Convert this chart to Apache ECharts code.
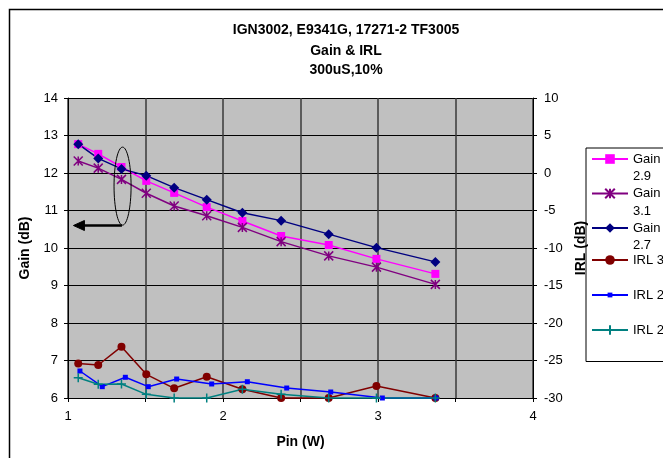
<!DOCTYPE html>
<html>
<head>
<meta charset="utf-8">
<script src="https://cdn.jsdelivr.net/npm/echarts@6/dist/echarts.min.js"></script>
<style>
html,body{margin:0;padding:0;background:#fff;}
#c{width:663px;height:458px;}
</style>
</head>
<body>
<div id="c"></div>
<script>
// ---- data ----
const titleLines = ['IGN3002, E9341G, 17271-2 TF3005', 'Gain & IRL', '300uS,10%'];
const pin   = [1.066, 1.195, 1.345, 1.505, 1.685, 1.895, 2.125, 2.375, 2.682, 2.99, 3.37];
const pinB  = [1.077, 1.221, 1.37, 1.518, 1.701, 1.927, 2.157, 2.411, 2.695, 3.028, 3.374];
const gain29 = [12.77, 12.51, 12.16, 11.79, 11.47, 11.09, 10.72, 10.32, 10.08, 9.71, 9.31];
const gain31 = [12.32, 12.13, 11.83, 11.46, 11.12, 10.86, 10.55, 10.17, 9.79, 9.49, 9.03];
const gain27 = [12.77, 12.39, 12.11, 11.93, 11.61, 11.29, 10.94, 10.73, 10.37, 10.01, 9.63];
const irl3   = [-25.4, -25.6, -23.16, -26.84, -28.71, -27.16, -28.84, -30, -30, -28.4, -30];
const irl2a  = [-26.4, -28.49, -27.24, -28.49, -27.47, -28.13, -27.83, -28.67, -29.2, -30, -30];
const irl2b  = [-27.29, -28.17, -28.13, -29.51, -30, -30, -28.84, -29.51, -30, -30, -30];
const seriesNames = ['Gain 2.9', 'Gain 3.1', 'Gain 2.7', 'IRL 3', 'IRL 2', 'IRL 2 '];
// annotation (ellipse around gain points + arrow to left axis), in data units
const ellipseAt = {x: 1.352, y: 11.65, halfW: 0.055, halfH: 1.04};
const arrowFrom = [1.348, 10.6], arrowTo = [1.035, 10.6];

const FONT = '"Liberation Sans", Arial, sans-serif';
const zip = (xs, ys) => xs.map((x, i) => [x, ys[i]]);

const asterisk = 'path://M0,0L10,10M10,0L0,10M5,0L5,10';
const plus = 'path://M5,0L5,10M0,5L10,5';

const defs = [
  {name: seriesNames[0], data: zip(pin, gain29), y: 0, color: '#FF00FF', symbol: 'rect', size: 8, legendH: 12},
  {name: seriesNames[1], data: zip(pin, gain31), y: 0, color: '#800080', symbol: asterisk, size: 9, stroke: true, legendH: 12},
  {name: seriesNames[2], data: zip(pin, gain27), y: 0, color: '#000080', symbol: 'diamond', size: 10, legendH: 12},
  {name: seriesNames[3], data: zip(pin, irl3), y: 1, color: '#800000', symbol: 'circle', size: 8, legendH: 12},
  {name: seriesNames[4], data: zip(pinB, irl2a), y: 1, color: '#0000FF', symbol: 'rect', size: 5, legendH: 6},
  {name: seriesNames[5], data: zip(pin, irl2b), y: 1, color: '#008080', symbol: plus, size: 9, stroke: true, legendH: 12}
];

const series = defs.map(d => ({
  type: 'line',
  name: d.name,
  yAxisIndex: d.y,
  data: d.data,
  symbol: d.symbol,
  symbolSize: d.size,
  clip: false,
  animation: false,
  lineStyle: {color: d.color, width: 1.5},
  itemStyle: d.stroke
    ? {color: d.color, borderColor: d.color, borderWidth: 1.5}
    : {color: d.color, borderWidth: 0}
}));

// legend: one component per entry so each can sit exactly where Excel put it
const LH = 17.5;
const legendCenters = [159, 193.5, 228, 260, 295, 330];
const legends = seriesNames.map((n, i) => {
  const twoLine = n.startsWith('Gain');
  return {
    data: [n],
    left: 591,
    top: legendCenters[i] - (twoLine ? 1.5 * LH : 0.5 * LH),
    orient: 'vertical',
    padding: 0,
    itemWidth: 36,
    itemHeight: defs[i].legendH,
    selectedMode: false,
    // blank first line keeps the marker level with the first text line, as in Excel
    formatter: nm => twoLine ? ' \n' + nm.replace(' ', '\n') : nm.trim(),
    textStyle: {fontFamily: FONT, fontSize: 13, color: '#000', lineHeight: LH}
  };
});

const chart = echarts.init(document.getElementById('c'), null, {renderer: 'canvas'});

const axisName = {fontFamily: FONT, fontSize: 14, fontWeight: 'bold', color: '#000'};
const tickLabel = {fontFamily: FONT, fontSize: 13, color: '#000'};

chart.setOption({
  animation: false,
  backgroundColor: '#fff',
  grid: {left: 68, top: 98, right: 130, bottom: 60, show: true, backgroundColor: '#C0C0C0', borderWidth: 0},
  legend: legends,
  xAxis: {
    type: 'value', min: 1, max: 4, interval: 0.5,
    name: 'Pin (W)', nameLocation: 'middle', nameGap: 37, nameTextStyle: axisName,
    axisLine: {show: true, onZero: false, lineStyle: {color: '#000', width: 1}},
    axisTick: {show: true, length: 4, lineStyle: {color: '#000'}},
    axisLabel: Object.assign({margin: 12, formatter: v => (Math.abs(v - Math.round(v)) < 1e-9 ? String(Math.round(v)) : '')}, tickLabel),
    splitLine: {show: true, lineStyle: {color: '#3a3a3a', width: 1.5}}
  },
  yAxis: [
    {
      type: 'value', min: 6, max: 14, interval: 1, position: 'left',
      name: 'Gain (dB)', nameLocation: 'middle', nameGap: 34, nameTextStyle: axisName,
      axisLine: {show: true, lineStyle: {color: '#000', width: 1}},
      axisTick: {show: true, length: 4, lineStyle: {color: '#000'}},
      axisLabel: Object.assign({margin: 10}, tickLabel),
      splitLine: {show: true, lineStyle: {color: '#000', width: 1}}
    },
    {
      type: 'value', min: -30, max: 10, interval: 5, position: 'right',
      name: 'IRL (dB)', nameLocation: 'middle', nameGap: 40, nameRotate: 90, nameTextStyle: axisName,
      axisLine: {show: true, lineStyle: {color: '#000', width: 1}},
      axisTick: {show: true, length: 4, lineStyle: {color: '#000'}},
      axisLabel: Object.assign({margin: 11}, tickLabel),
      splitLine: {show: false}
    }
  ],
  series: series
});

// annotations and title, placed through the chart's own scales
const P = (x, y) => chart.convertToPixel({xAxisIndex: 0, yAxisIndex: 0}, [x, y]);
const c = P(ellipseAt.x, ellipseAt.y);
const e1 = P(ellipseAt.x + ellipseAt.halfW, ellipseAt.y + ellipseAt.halfH);
const a0 = P(arrowFrom[0], arrowFrom[1]);
const a1 = P(arrowTo[0], arrowTo[1]);

const graphics = [
  {type: 'rect', z: 0, silent: true, shape: {x: 9.5, y: 9.5, width: 720, height: 520},
   style: {fill: null, stroke: '#000', lineWidth: 1.5}},
  {type: 'rect', z: 1, silent: true, shape: {x: 586, y: 148, width: 120, height: 213.5},
   style: {fill: null, stroke: '#000', lineWidth: 1}},
  {type: 'ellipse', z: 50, silent: true, shape: {cx: c[0], cy: c[1], rx: e1[0] - c[0], ry: c[1] - e1[1]},
   style: {fill: null, stroke: '#000', lineWidth: 1}},
  {type: 'polyline', z: 50, silent: true, shape: {points: [[a0[0], a0[1]], [a1[0] + 8, a1[1]]]},
   style: {stroke: '#000', lineWidth: 2.5, fill: null}},
  {type: 'polygon', z: 50, silent: true,
   shape: {points: [[a1[0], a1[1]], [a1[0] + 11, a1[1] - 5], [a1[0] + 11, a1[1] + 5]]},
   style: {fill: '#000', stroke: '#000'}}
];
const titleY = [30, 51, 70];
titleLines.forEach((t, i) => graphics.push({
  type: 'text', z: 60, silent: true, x: 346, y: titleY[i],
  style: {text: t, font: 'bold 14px ' + FONT, fill: '#000', align: 'center', verticalAlign: 'middle'}
}));
chart.setOption({graphic: graphics});
</script>
</body>
</html>
